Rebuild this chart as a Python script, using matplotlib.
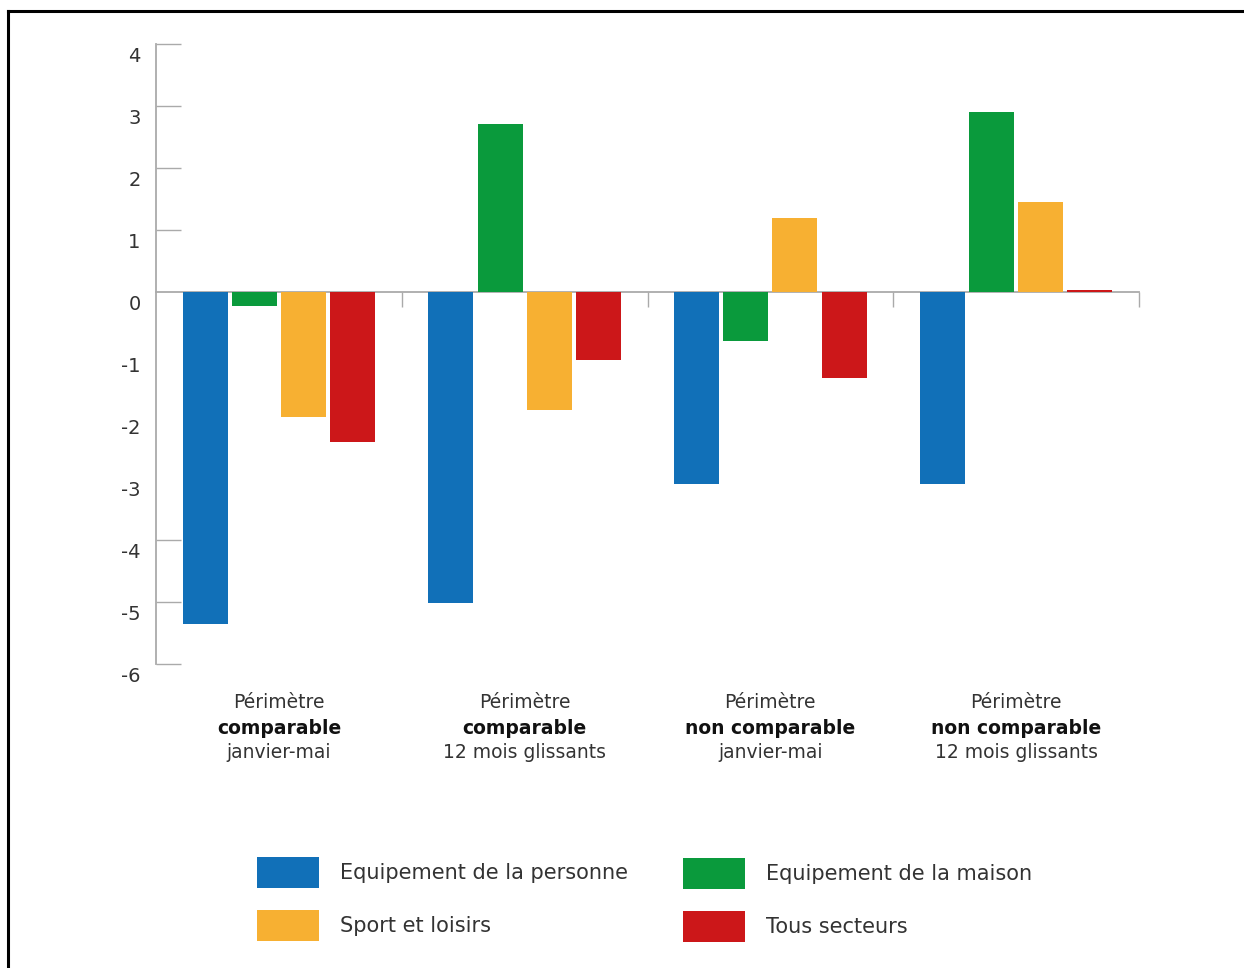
import numpy as np
import matplotlib
matplotlib.use("Agg")
import matplotlib.pyplot as plt
import matplotlib.transforms as mtransforms
from matplotlib.lines import Line2D
from matplotlib.patches import Patch

plt.rcParams["font.family"] = ["DejaVu Sans"]

# data
categories_top = ["Périmètre", "Périmètre", "Périmètre", "Périmètre"]
categories_mid = ["comparable", "comparable", "non comparable", "non comparable"]
categories_bot = ["janvier-mai", "12 mois glissants", "janvier-mai", "12 mois glissants"]
series_names = ["Equipement de la personne", "Equipement de la maison",
                "Sport et loisirs", "Tous secteurs"]
equip_personne = [-5.35, -5.02, -3.1, -3.1]
equip_maison = [-0.23, 2.71, -0.79, 2.90]
sport_loisirs = [-2.01, -1.90, 1.19, 1.45]
tous_secteurs = [-2.42, -1.10, -1.39, 0.04]
y_ticks = [4, 3, 2, 1, 0, -1, -2, -3, -4, -5, -6]

colors = ["#1170B8", "#0A9A3C", "#F7B032", "#CC1719"]
text_color = "#333333"
axis_color = "#AAAAAA"

W, H = 1244, 968
fig = plt.figure(figsize=(W / 100, H / 100), dpi=100)
ax = fig.add_axes([156 / W, (H - 664) / H, (1139 - 156) / W, 620 / H])

x = np.arange(len(categories_top))
series = [equip_personne, equip_maison, sport_loisirs, tous_secteurs]
offsets = [-0.3, -0.1, 0.1, 0.3]
for vals, off, c in zip(series, offsets, colors):
    ax.bar(x + off, vals, width=0.183, color=c, edgecolor="none", zorder=2)

ax.set_xlim(-0.5, 3.5)
ax.set_ylim(-6, 4)

# spines
for s in ["top", "right"]:
    ax.spines[s].set_visible(False)
ax.spines["left"].set_color(axis_color)
ax.spines["left"].set_linewidth(1.3)
ax.spines["bottom"].set_position(("data", 0))
ax.spines["bottom"].set_color(axis_color)
ax.spines["bottom"].set_linewidth(1.3)
ax.spines["bottom"].set_zorder(1)

# y ticks: inward lines, labels shifted a bit down like the source
ax.set_yticks(y_ticks)
ax.set_yticklabels([str(t) for t in y_ticks])
ax.tick_params(axis="y", direction="in", length=18, width=1.0, color=axis_color,
               labelsize=14, labelcolor=text_color, pad=11)
for t, tl in zip(y_ticks, ax.yaxis.get_major_ticks()):
    if t in (0, -1, -2, -3):
        tl.tick1line.set_visible(False)
offset = mtransforms.ScaledTranslation(0, -11 / 100, fig.dpi_scale_trans)
for lab in ax.get_yticklabels():
    lab.set_transform(lab.get_transform() + offset)

# x ticks at category boundaries, pointing down from zero line
ax.set_xticks([0.5, 1.5, 2.5, 3.5])
ax.set_xticklabels([])
ax.tick_params(axis="x", direction="out", length=11, width=1.0, color=axis_color)

# category labels
trans = mtransforms.blended_transform_factory(ax.transData, ax.transAxes)
for i in range(len(categories_top)):
    ax.text(i, (664 - 703) / 620, categories_top[i], transform=trans, ha="center",
            va="center", fontsize=13.5, color=text_color)
    ax.text(i, (664 - 728) / 620, categories_mid[i], transform=trans, ha="center",
            va="center", fontsize=13.5, color="#111111", fontweight="bold")
    ax.text(i, (664 - 753) / 620, categories_bot[i], transform=trans, ha="center",
            va="center", fontsize=13.5, color=text_color)

# legend in two columns
def make_legend(idx, left, top):
    handles = [Patch(facecolor=colors[i], edgecolor="none") for i in idx]
    labels = [series_names[i] for i in idx]
    leg = fig.legend(handles, labels, loc="upper left",
                     bbox_to_anchor=(left / W, 1 - top / H), frameon=False,
                     fontsize=15, handlelength=2.98, handleheight=1.915,
                     handletextpad=1.0, labelspacing=1.06, borderpad=0,
                     borderaxespad=0, labelcolor=text_color)
    return leg

make_legend([0, 2], 257, 857)
make_legend([1, 3], 683, 858)

# outer frame (top and left only, as in the source)
fig.add_artist(Line2D([8 / W, 1], [1 - 11 / H, 1 - 11 / H], color="black",
                      linewidth=2.2, transform=fig.transFigure))
fig.add_artist(Line2D([8 / W, 8 / W], [0, 1 - 11 / H], color="black",
                      linewidth=2.2, transform=fig.transFigure))

fig.savefig("out.png", dpi=100)
